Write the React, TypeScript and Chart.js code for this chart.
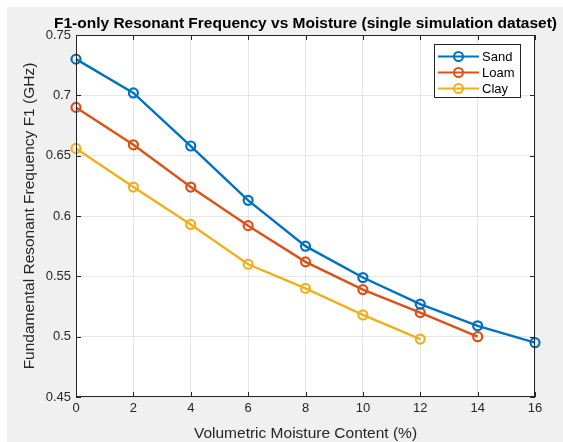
import React, { useEffect, useRef } from "react";
import { Chart, registerables } from "chart.js";

Chart.register(...registerables);

const moisture = [0, 2, 4, 6, 8, 10, 12, 14, 16];
const sand = [0.730, 0.702, 0.658, 0.613, 0.575, 0.549, 0.527, 0.509, 0.495];
const loam = [0.690, 0.659, 0.624, 0.592, 0.562, 0.539, 0.520, 0.500];
const clay = [0.656, 0.624, 0.593, 0.560, 0.540, 0.518, 0.498];
const seriesNames = ["Sand", "Loam", "Clay"];
const seriesColors = ["#0072BD", "#D95319", "#EDB120"];
const xTicks = [0, 2, 4, 6, 8, 10, 12, 14, 16];
const yTicks = [0.45, 0.5, 0.55, 0.6, 0.65, 0.7, 0.75];
const titleText = "F1-only Resonant Frequency vs Moisture (single simulation dataset)";
const xTitle = "Volumetric Moisture Content (%)";
const yTitle = "Fundamental Resonant Frequency F1 (GHz)";

const FONT = "Liberation Sans, Arial, Helvetica, sans-serif";
const AXIS_COLOR = "#262626";

const toPoints = (vals: number[]) => vals.map((v, i) => ({ x: moisture[i], y: v }));

const decorPlugin = {
  id: "decor",
  beforeDraw(chart: any) {
    const { ctx, chartArea: a } = chart;
    ctx.save();
    ctx.fillStyle = "#ffffff";
    ctx.fillRect(0, 0, chart.width, chart.height);
    ctx.fillStyle = "#f0f0f0";
    ctx.fillRect(7, 7, chart.width - 7, chart.height - 7);
    ctx.fillStyle = "#ffffff";
    ctx.fillRect(a.left, a.top, a.right - a.left, a.bottom - a.top);
    ctx.restore();
  },
  afterDraw(chart: any) {
    const { ctx, chartArea: a } = chart;
    const xs = chart.scales.x;
    const ys = chart.scales.y;
    ctx.save();
    // box
    ctx.strokeStyle = AXIS_COLOR;
    ctx.lineWidth = 1;
    ctx.strokeRect(a.left + 0.5, a.top + 0.5, a.right - a.left - 1, a.bottom - a.top - 1);
    // inward ticks
    ctx.beginPath();
    xTicks.forEach((t) => {
      const px = Math.round(xs.getPixelForValue(t)) + 0.5;
      ctx.moveTo(px, a.bottom);
      ctx.lineTo(px, a.bottom - 5);
      ctx.moveTo(px, a.top);
      ctx.lineTo(px, a.top + 5);
    });
    yTicks.forEach((t) => {
      const py = Math.round(ys.getPixelForValue(t)) + 0.5;
      ctx.moveTo(a.left, py);
      ctx.lineTo(a.left + 5, py);
      ctx.moveTo(a.right, py);
      ctx.lineTo(a.right - 5, py);
    });
    ctx.stroke();

    // title
    ctx.fillStyle = "#000000";
    ctx.font = `bold 15.5px ${FONT}`;
    ctx.textAlign = "center";
    ctx.textBaseline = "middle";
    ctx.fillText(titleText, (a.left + a.right) / 2, 24);

    // axis titles
    ctx.fillStyle = AXIS_COLOR;
    ctx.font = `15.5px ${FONT}`;
    ctx.fillText(xTitle, (a.left + a.right) / 2, 434);
    ctx.save();
    ctx.translate(30, (a.top + a.bottom) / 2);
    ctx.rotate(-Math.PI / 2);
    ctx.fillText(yTitle, 0, 0);
    ctx.restore();

    // legend
    const lx = 434.5, ly = 44.5, lw = 86, lh = 53;
    ctx.fillStyle = "#ffffff";
    ctx.fillRect(lx, ly, lw, lh);
    ctx.strokeStyle = "#262626";
    ctx.lineWidth = 1;
    ctx.strokeRect(lx, ly, lw, lh);
    const rows = [56.5, 72.5, 88.5];
    seriesNames.forEach((name, i) => {
      const y = rows[i];
      ctx.strokeStyle = seriesColors[i];
      ctx.lineWidth = 2;
      ctx.beginPath();
      ctx.moveTo(438, y);
      ctx.lineTo(479, y);
      ctx.stroke();
      ctx.beginPath();
      ctx.arc(458.5, y, 4.5, 0, Math.PI * 2);
      ctx.stroke();
      ctx.fillStyle = "#000000";
      ctx.font = `13px ${FONT}`;
      ctx.textAlign = "left";
      ctx.textBaseline = "middle";
      ctx.fillText(name, 482, y + 0.5);
    });
    ctx.restore();
  },
};

export default function App() {
  const ref = useRef<HTMLCanvasElement | null>(null);
  useEffect(() => {
    document.body.style.margin = "0";
    const series = [sand, loam, clay];
    const chart = new Chart(ref.current as HTMLCanvasElement, {
      type: "line",
      data: {
        datasets: series.map((vals, i) => ({
          label: seriesNames[i],
          data: toPoints(vals),
          borderColor: seriesColors[i],
          backgroundColor: "rgba(0,0,0,0)",
          pointBorderColor: seriesColors[i],
          pointBackgroundColor: "rgba(0,0,0,0)",
          pointRadius: 4.5,
          pointBorderWidth: 2.2,
          borderWidth: 2.4,
          tension: 0,
          clip: false as any,
        })),
      },
      options: {
        animation: false,
        responsive: false,
        events: [],
        layout: { padding: { top: 35, right: 28, left: 0, bottom: 0 } },
        plugins: { legend: { display: false }, title: { display: false }, tooltip: { enabled: false } },
        scales: {
          x: {
            type: "linear",
            min: 0,
            max: 16,
            afterBuildTicks: (s: any) => { s.ticks = xTicks.map((v) => ({ value: v })); },
            afterFit: (s: any) => { s.height = 45; },
            border: { display: false },
            grid: { color: "#e6e6e6", drawTicks: false, lineWidth: 1 },
            ticks: {
              color: AXIS_COLOR,
              font: { family: FONT, size: 13 },
              padding: 4,
              maxRotation: 0,
              callback: (v: any) => String(v),
            },
          },
          y: {
            type: "linear",
            min: 0.45,
            max: 0.75,
            afterBuildTicks: (s: any) => { s.ticks = yTicks.map((v) => ({ value: v })); },
            afterFit: (s: any) => { s.width = 76; },
            border: { display: false },
            grid: { color: "#e6e6e6", drawTicks: false, lineWidth: 1 },
            ticks: {
              color: AXIS_COLOR,
              font: { family: FONT, size: 13 },
              padding: 5,
              callback: (v: any) => String(Math.round(v * 100) / 100),
            },
          },
        },
      },
      plugins: [decorPlugin],
    });
    return () => chart.destroy();
  }, []);
  return (
    <div style={{ position: "absolute", left: 0, top: 0, width: 563, height: 442 }}>
      <canvas ref={ref} width={563} height={442} style={{ width: 563, height: 442, display: "block" }} />
    </div>
  );
}
